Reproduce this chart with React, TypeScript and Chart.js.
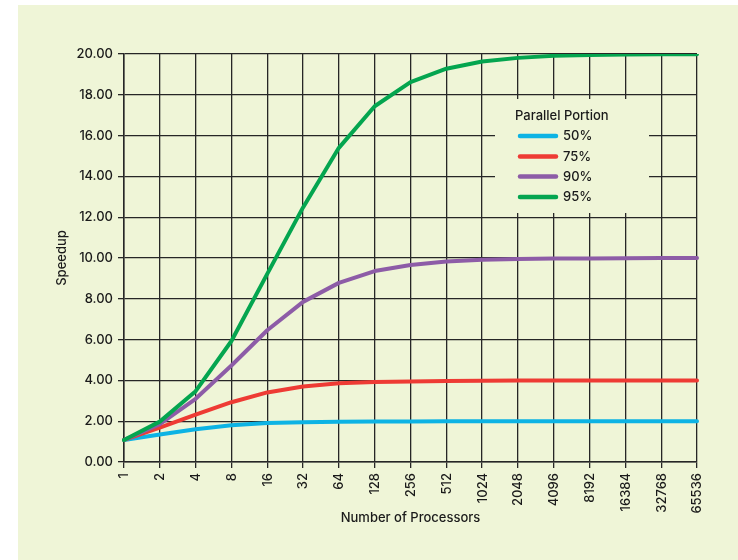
import React, { useEffect, useRef } from "react";
import { Chart, registerables } from "chart.js";

Chart.register(...registerables);

const processors = ["1","2","4","8","16","32","64","128","256","512","1024","2048","4096","8192","16384","32768","65536"];
const seriesNames = ["50%", "75%", "90%", "95%"];
const p50 = [1.08,1.35,1.61,1.80,1.91,1.95,1.97,1.98,1.99,2.00,2.00,2.00,2.00,2.00,2.00,2.00,2.00];
const p75 = [1.08,1.68,2.32,2.93,3.41,3.70,3.86,3.92,3.95,3.97,3.98,3.99,4.00,4.00,4.00,4.00,4.00];
const p90 = [1.08,1.86,3.10,4.73,6.46,7.85,8.78,9.36,9.66,9.83,9.91,9.95,9.97,9.98,9.99,10.00,10.00];
const p95 = [1.08,1.98,3.47,5.93,9.22,12.48,15.40,17.44,18.62,19.28,19.63,19.81,19.91,19.95,19.98,19.99,19.99];
const legendTitle = "Parallel Portion";
const yTitle = "Speedup";
const xTitle = "Number of Processors";

const COLORS = ["#0db3e4", "#ee3b34", "#8d5ca7", "#04a54f"];
const BG = "#eff5d7";
const GRID = "#262626";
const FONT = "Inter, 'Noto Sans', sans-serif";
const WEIGHT = 500;
const TEXT = "#1a1a1a";

const panelPlugin = {
  id: "panel",
  beforeDraw(chart: any) {
    const ctx = chart.ctx;
    ctx.save();
    ctx.fillStyle = "#ffffff";
    ctx.fillRect(0, 0, chart.width, chart.height);
    ctx.fillStyle = BG;
    ctx.fillRect(18, 5, chart.width - 18, chart.height - 5);
    ctx.restore();
  },
};

const legendPlugin = {
  id: "boxLegend",
  afterDatasetsDraw(chart: any) {
    const ctx = chart.ctx;
    ctx.save();
    ctx.fillStyle = BG;
    ctx.fillRect(495, 99, 154, 114);
    ctx.fillStyle = TEXT;
    ctx.font = `${WEIGHT} 13px ${FONT}`;
    ctx.textBaseline = "middle";
    ctx.textAlign = "left";
    ctx.fillText(legendTitle, 515, 116);
    const rows = [136, 156.5, 176.5, 197];
    chart.data.datasets.forEach((ds: any, i: number) => {
      const y = rows[i];
      ctx.strokeStyle = ds.borderColor;
      ctx.lineWidth = 4.5;
      ctx.lineCap = "round";
      ctx.beginPath();
      ctx.moveTo(520, y);
      ctx.lineTo(556, y);
      ctx.stroke();
      ctx.fillStyle = TEXT;
      ctx.fillText(ds.label, 563, y + 0.5);
    });
    ctx.restore();
  },
};

const xLabelPlugin = {
  id: "xLabels",
  afterDraw(chart: any) {
    const ctx = chart.ctx;
    const scale = chart.scales.x;
    ctx.save();
    ctx.fillStyle = TEXT;
    ctx.font = `${WEIGHT} 13px ${FONT}`;
    ctx.textAlign = "right";
    ctx.textBaseline = "middle";
    scale.ticks.forEach((t: any, i: number) => {
      const x = scale.getPixelForTick(i);
      const label = scale.getLabelForValue(t.value);
      ctx.save();
      ctx.translate(x + 0.5, scale.top + 11);
      ctx.rotate(-Math.PI / 2);
      ctx.fillText(label, 0, 0);
      ctx.restore();
    });
    ctx.restore();
  },
};

export default function App() {
  const ref = useRef<HTMLCanvasElement | null>(null);
  useEffect(() => {
    document.body.style.margin = "0";
    const canvas = ref.current!;
    const series = [p50, p75, p90, p95];
    const chart = new Chart(canvas, {
      type: "line",
      data: {
        labels: processors,
        datasets: series.map((d, i) => ({
          label: seriesNames[i],
          data: d,
          borderColor: COLORS[i],
          backgroundColor: COLORS[i],
          borderWidth: 4,
          pointRadius: 0,
          tension: 0,
          borderCapStyle: "round",
          borderJoinStyle: "round",
          order: 3 - i,
          fill: false,
        })),
      },
      options: {
        responsive: false,
        animation: false,
        layout: { padding: { left: 50, top: 54, right: 41, bottom: 30 } },
        plugins: { legend: { display: false }, tooltip: { enabled: false } },
        scales: {
          x: {
            type: "category",
            offset: false,
            afterFit: (s: any) => { s.height = 68; },
            grid: { color: GRID, lineWidth: 1.3, tickLength: 6, drawTicks: true },
            border: { color: GRID, width: 1.5 },
            ticks: { display: false, autoSkip: false },
            title: { display: true, text: xTitle, color: TEXT, font: { family: FONT, size: 13, weight: WEIGHT }, padding: 4 },
          },
          y: {
            min: 0,
            max: 20,
            afterFit: (s: any) => { s.width = 74; },
            grid: { color: GRID, lineWidth: 1.3, tickLength: 6 },
            border: { color: GRID, width: 1.5 },
            ticks: {
              stepSize: 2,
              padding: 5,
              color: TEXT,
              font: { family: FONT, size: 13, weight: WEIGHT },
              callback: (v: any) => Number(v).toFixed(2),
            },
            title: { display: true, text: yTitle, color: TEXT, font: { family: FONT, size: 13, weight: WEIGHT }, padding: 4 },
          },
        },
      },
      plugins: [panelPlugin, legendPlugin, xLabelPlugin],
    });
    return () => chart.destroy();
  }, []);
  return (
    <div style={{ width: 738, height: 560 }}>
      <canvas ref={ref} width={738} height={560} style={{ display: "block" }} />
    </div>
  );
}
